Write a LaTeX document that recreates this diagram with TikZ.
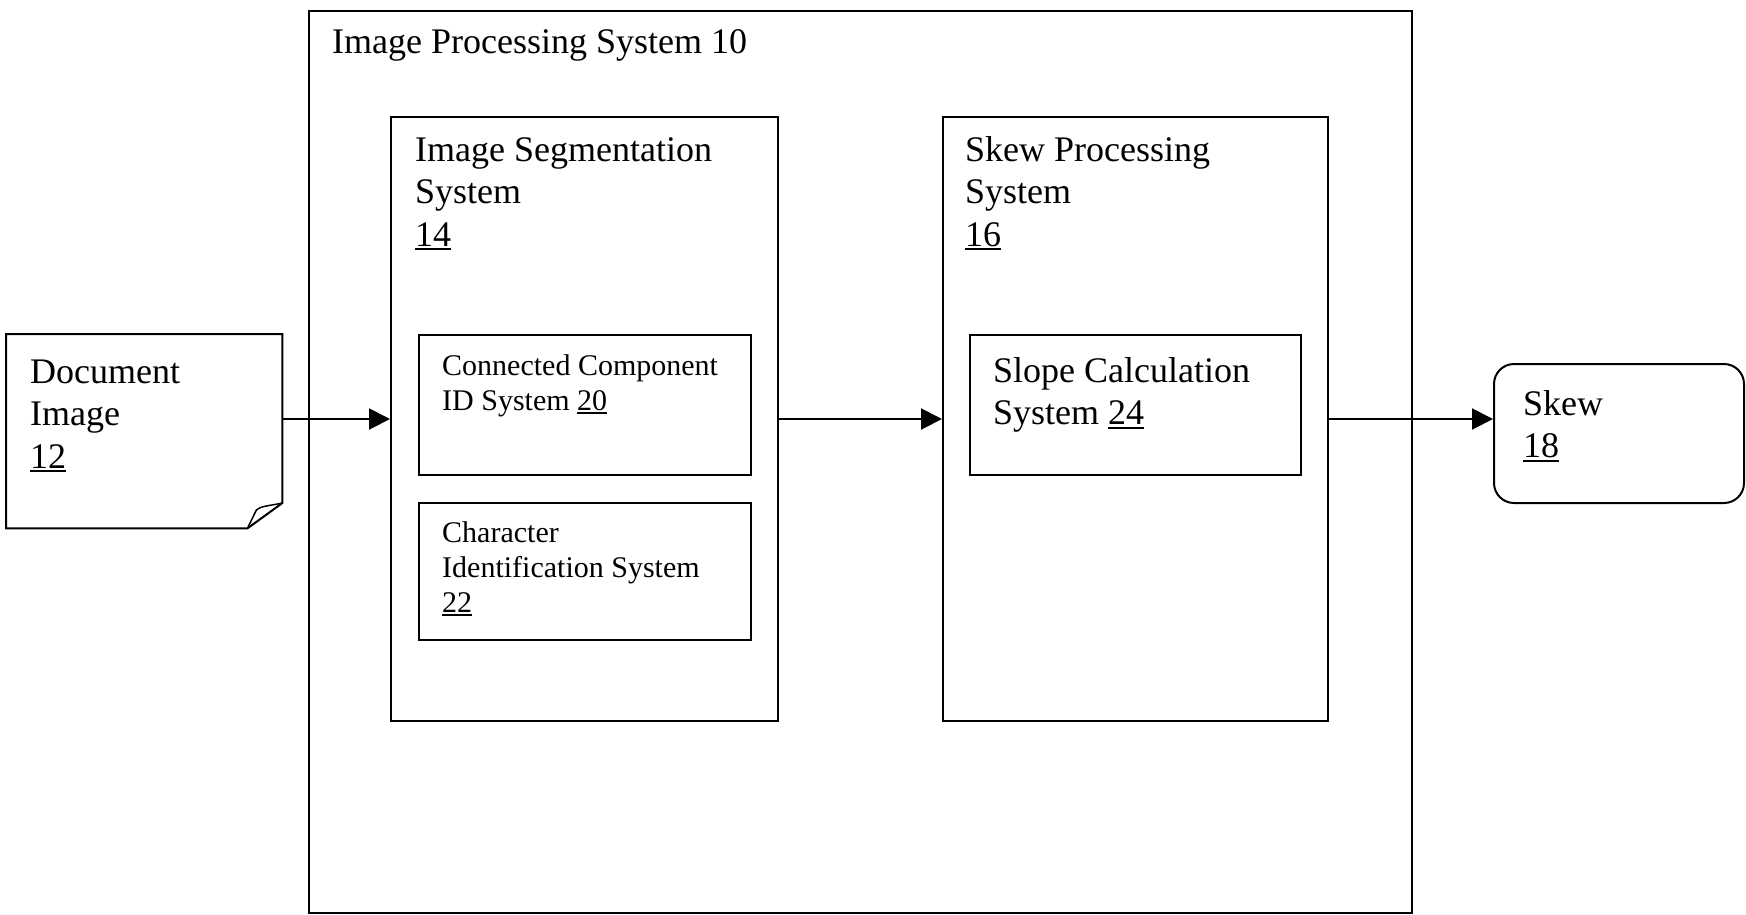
\documentclass[tikz,border=0pt]{standalone}
\usepackage{fontspec}
\setmainfont{Liberation Serif}
\usetikzlibrary{arrows.meta}
\newcommand\unum[1]{\setbox0\hbox{#1}\rlap{\rule[-4pt]{\wd0}{2pt}}\box0}
\newcommand\mkline[1]{\hbox{#1}}
\tikzset{
  box/.style={draw, line width=2pt, inner sep=0pt, anchor=north west},
  big/.style={inner sep=0pt, anchor=base west, font=\fontsize{36}{42.7}\selectfont},
  small/.style={inner sep=0pt, anchor=base west, font=\fontsize{30}{35}\selectfont},
  conn/.style={line width=2pt, -{Triangle[length=21pt,width=21pt]}}
}
\begin{document}
\begin{tikzpicture}[x=1pt,y=-1pt]
\useasboundingbox (0,0) rectangle (1746,914);
% outer system
\node[box, minimum width=1103pt, minimum height=902pt] (ips) at (308,10) {};
\node[big] (ipsT) at (332,53) {Image Processing System 10};
% segmentation
\node[box, minimum width=387pt, minimum height=604pt] (seg) at (390,116) {};
\node[big] (segT) at (415,161) {\vtop{\mkline{Image Segmentation}\mkline{System}\mkline{\unum{14}}}};
\node[box, minimum width=332pt, minimum height=140pt] (cc) at (418,334) {};
\node[small] (ccT) at (442,375) {\vtop{\mkline{Connected Component}\mkline{ID System \unum{20}}}};
\node[box, minimum width=332pt, minimum height=137pt] (ci) at (418,502) {};
\node[small] (ciT) at (442,542) {\vtop{\mkline{Character}\mkline{Identification System}\mkline{\unum{22}}}};
% skew processing
\node[box, minimum width=385pt, minimum height=604pt] (skp) at (942,116) {};
\node[big] (skpT) at (965,161) {\vtop{\mkline{Skew Processing}\mkline{System}\mkline{\unum{16}}}};
\node[box, minimum width=331pt, minimum height=140pt] (sl) at (969,334) {};
\node[big] (slT) at (993,382) {\vtop{\mkline{Slope Calculation}\mkline{System \unum{24}}}};
% document
\node[inner sep=0pt, minimum width=276pt, minimum height=194pt, anchor=north west] (doc) at (6,334) {};
\draw[line width=2pt, line join=miter] (doc.north west) -- (doc.north east) -- ([yshift=-169pt]doc.north east)
  -- ([xshift=-35pt]doc.south east) -- (doc.south west) -- cycle;
\draw[line width=1.5pt] ([yshift=-169pt]doc.north east) .. controls ([xshift=-14pt,yshift=-172pt]doc.north east) and ([xshift=-22pt,yshift=-172pt]doc.north east) .. ([xshift=-26pt,yshift=-176pt]doc.north east)
  -- ([xshift=-35pt]doc.south east);
\node[big] (docT) at (30,383) {\vtop{\mkline{Document}\mkline{Image}\mkline{\unum{12}}}};
% skew output
\node[box, rounded corners=20pt, minimum width=250pt, minimum height=139pt] (skew) at (1493,363) {};
\node[big] (skewT) at (1523,415) {\vtop{\mkline{Skew}\mkline{\unum{18}}}};
% connectors
\draw[conn] (doc.east |- seg.west) -- (seg.west);
\draw[conn] (seg.east) -- (skp.west);
\draw[conn] (skp.east) -- (skew.west |- skp.east);
\end{tikzpicture}
\end{document}
